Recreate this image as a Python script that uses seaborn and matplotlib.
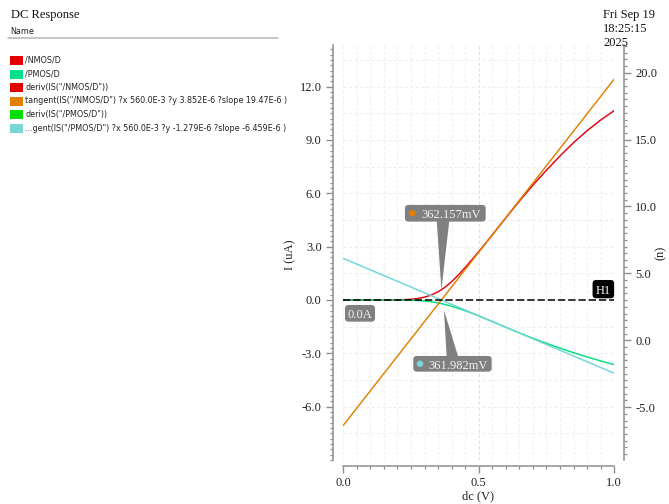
import numpy as np
import pandas as pd
import matplotlib
matplotlib.use("Agg")
import matplotlib.pyplot as plt
import seaborn as sns
from matplotlib.patches import FancyBboxPatch, Polygon, Rectangle, Circle
from matplotlib.lines import Line2D
from matplotlib.transforms import IdentityTransform
from matplotlib.ticker import MultipleLocator, FixedLocator, FormatStrFormatter

# ---- DC sweep results -------------------------------------------------------
vdc = [0.0, 0.05, 0.1, 0.15, 0.2, 0.225, 0.25, 0.275, 0.3, 0.325, 0.35, 0.375,
       0.4, 0.425, 0.45, 0.475, 0.5, 0.53, 0.56, 0.6, 0.65, 0.7, 0.75, 0.8,
       0.85, 0.9, 0.95, 1.0]
i_nmos = [0, 0, 0, 0.001, 0.008, 0.018, 0.04, 0.085, 0.16, 0.28, 0.46, 0.71,
          1.03, 1.41, 1.83, 2.27, 2.72, 3.28, 3.852, 4.62, 5.56, 6.46, 7.3, 8.1,
          8.85, 9.52, 10.12, 10.65]
i_pmos = [0, 0, 0, -0.001, -0.004, -0.008, -0.015, -0.03, -0.06, -0.1, -0.165,
          -0.25, -0.355, -0.475, -0.605, -0.745, -0.9, -1.09, -1.279, -1.535,
          -1.85, -2.155, -2.44, -2.71, -2.965, -3.205, -3.43, -3.64]

# tangent(IS(...) ?x ?y ?slope) parameters (uA, uA/V)
tan_x = 0.56
nmos_tan_y, nmos_tan_slope = 3.852, 19.47
pmos_tan_y, pmos_tan_slope = -1.279, -6.459
sweep = [0.0, 1.0]

h1_level = 0.0

trace_names = ['/NMOS/D', '/PMOS/D', 'deriv(IS("/NMOS/D"))',
               'tangent(IS("/NMOS/D") ?x 560.0E-3 ?y 3.852E-6 ?slope 19.47E-6 )',
               'deriv(IS("/PMOS/D"))',
               '...gent(IS("/PMOS/D") ?x 560.0E-3 ?y -1.279E-6 ?slope -6.459E-6 )']
trace_colors = ['#e30000', '#00e08a', '#e00000', '#e08000', '#00dd00', '#78d8d8']

left_ticks = [-6.0, -3.0, 0.0, 3.0, 6.0, 9.0, 12.0]
right_ticks = [-5.0, 0.0, 5.0, 10.0, 15.0, 20.0]
x_ticks = [0.0, 0.5, 1.0]

# ---- styling -----------------------------------------------------------------
sns.set_theme(style="white")
SERIF = "Liberation Serif"
plt.rcParams["font.family"] = [SERIF, "DejaVu Serif"]

W, H = 669, 504
fig = plt.figure(figsize=(W / 100, H / 100), dpi=100)
fig.patch.set_facecolor("white")


def fx(px):
    return px / W


def fy(py):
    return 1 - py / H


ax = fig.add_axes([fx(343.3), fy(460), (614.2 - 343.3) / W, (460 - 45) / H])
ax.set_facecolor("white")

# tangent lines evaluated over the sweep range
tan_n = [nmos_tan_y + nmos_tan_slope * (v - tan_x) for v in sweep]
tan_p = [pmos_tan_y + pmos_tan_slope * (v - tan_x) for v in sweep]

curves = pd.DataFrame({"dc": vdc, "NMOS": i_nmos, "PMOS": i_pmos})
tangents = pd.DataFrame({"dc": sweep, "tanN": tan_n, "tanP": tan_p})

lw = 1.05
sns.lineplot(data=curves, x="dc", y="NMOS", ax=ax, color="#e30010", lw=lw,
             estimator=None, sort=False, zorder=3)
sns.lineplot(data=curves, x="dc", y="PMOS", ax=ax, color="#00e07c", lw=lw,
             estimator=None, sort=False, zorder=3)
sns.lineplot(data=tangents, x="dc", y="tanN", ax=ax, color="#e08000", lw=lw,
             estimator=None, sort=False, zorder=4)
sns.lineplot(data=tangents, x="dc", y="tanP", ax=ax, color="#72d6d6", lw=lw,
             estimator=None, sort=False, zorder=4)

# H1 horizontal marker
ax.axhline(h1_level, color="black", lw=1.1, ls=(0, (4.8, 1.9)), zorder=5)

ax.set_xlim(0, 1)
ax.set_ylim(-9.0, 14.34)
ax.set_xlabel("")
ax.set_ylabel("")

# grid
ax.set_axisbelow(True)
for v in np.arange(0.0, 1.0001, 0.05):
    major = abs(v - 0.5) < 1e-6
    ax.axvline(v, color="#e0e0e0" if major else "#f0f0f0", lw=0.8,
               ls=(0, (3, 2)), zorder=0.5)
for v in np.arange(-7.5, 14.0, 1.5):
    ax.axhline(v, color="#efefef", lw=0.8, ls=(0, (3, 2)), zorder=0.5)

# axes / ticks
spine_col = "#8e8e8e"
tick_col = "#8e8e8e"
lab_col = "#222222"
for s in ["top", "right"]:
    ax.spines[s].set_visible(False)
ax.spines["left"].set_position(("outward", 7.4))
ax.spines["bottom"].set_position(("outward", 4.3))
for s in ["left", "bottom"]:
    ax.spines[s].set_color(spine_col)
    ax.spines[s].set_linewidth(1.1)

ax.xaxis.set_major_locator(FixedLocator(x_ticks))
ax.xaxis.set_minor_locator(MultipleLocator(0.05))
ax.xaxis.set_major_formatter(FormatStrFormatter("%.1f"))
ax.yaxis.set_major_locator(FixedLocator(left_ticks))
ax.yaxis.set_minor_locator(MultipleLocator(0.3))
ax.yaxis.set_major_formatter(FormatStrFormatter("%.1f"))
ax.tick_params(which="major", length=5, width=1, color=tick_col,
               labelsize=9, labelcolor=lab_col, direction="out")
ax.tick_params(which="minor", length=2.5, width=0.9, color=tick_col,
               direction="out")
ax.tick_params(axis="y", which="both", left=True, pad=3.2)
ax.tick_params(axis="x", which="both", bottom=True, pad=3.0)

ax2 = ax.twinx()
ax2.set_ylim(-8.95, 22.07)
for s in ["top", "left", "bottom"]:
    ax2.spines[s].set_visible(False)
ax2.spines["right"].set_position(("outward", 7.2))
ax2.spines["right"].set_color(spine_col)
ax2.spines["right"].set_linewidth(1.1)
ax2.yaxis.set_major_locator(FixedLocator(right_ticks))
ax2.yaxis.set_minor_locator(MultipleLocator(0.5))
ax2.yaxis.set_major_formatter(FormatStrFormatter("%.1f"))
ax2.tick_params(axis="y", which="major", length=5, width=1, color=tick_col,
                labelsize=9, labelcolor=lab_col, direction="out", pad=3.0,
                right=True)
ax2.tick_params(axis="y", which="minor", length=2.5, width=0.9,
                color=tick_col, direction="out", right=True)
ax2.grid(False)

# axis titles
fig.text(fx(290), fy(255), "I (uA)", rotation=90, ha="center", va="center",
         fontsize=9, color=lab_col)
fig.text(fx(661), fy(253), "(n)", rotation=90, ha="center", va="center",
         fontsize=9, color=lab_col)
fig.text(fx(478.5), fy(496), "dc (V)", ha="center", va="center",
         fontsize=9, color=lab_col)

# ---- marker callouts (drawn in pixel space, anchored to data) -------------------
PIX = IdentityTransform()
box_gray = "#808080"
box_txt = "#f2f2f2"


def to_px(x, y):
    return ax.transData.transform((x, y))


def callout(anchor, w, h, text, fc=box_gray, tc=box_txt, dot=None,
            text_dx=None, wedge=None):
    cx, cy = to_px(*anchor)
    if wedge is not None:
        tip, side, b0, b1 = wedge
        tx, ty = to_px(*tip)
        by = cy - h / 2 + 1 if side == "bottom" else cy + h / 2 - 1
        fig.add_artist(Polygon([[cx + b0, by], [cx + b1, by], [tx, ty]],
                               closed=True, transform=PIX, fc=fc, ec="none",
                               zorder=8))
    fig.add_artist(FancyBboxPatch((cx - w / 2, cy - h / 2), w, h,
                                  boxstyle="round,pad=0,rounding_size=3.5",
                                  transform=PIX, fc=fc, ec="none", zorder=9))
    if dot is not None:
        dcol, ddx = dot
        fig.add_artist(Circle((cx + ddx, cy), 3.2, transform=PIX, fc=dcol,
                              ec="none", zorder=10))
    if text_dx is None:
        fig.text(cx, cy - 0.5, text, transform=PIX, ha="center",
                 va="center_baseline", fontsize=9, color=tc, zorder=11)
    else:
        fig.text(cx + text_dx, cy - 0.5, text, transform=PIX, ha="left",
                 va="center_baseline", fontsize=9, color=tc, zorder=11)


nmos_cross = tan_x - nmos_tan_y / nmos_tan_slope
pmos_cross = tan_x - pmos_tan_y / pmos_tan_slope
nmos_at_cross = float(np.interp(nmos_cross, vdc, i_nmos))

callout((0.3766, 4.876), 80.7, 16.7, f"{nmos_cross * 1e3:.3f}mV",
        dot=("#e08000", -33.0), text_dx=-24.3,
        wedge=((nmos_cross, nmos_at_cross), "bottom", -8.6, 4.0))
callout((0.403, -3.59), 78.4, 15.7, f"{pmos_cross * 1e3:.3f}mV",
        dot=("#78d8d8", -32.5), text_dx=-24.2,
        wedge=((pmos_cross + 0.0095, -0.56), "top", -5.8, 5.8))
callout((0.0616, -0.75), 30.0, 16.7, f"{h1_level:.1f}A")
callout((0.96, 0.61), 21.6, 18.3, "H1", fc="black", tc="white")

# ---- header, legend and timestamp -----------------------------------------------
fig.text(fx(11), fy(18.3), "DC Response", ha="left", va="baseline",
         fontsize=9, color="#111111")
for k, line in enumerate(["Fri Sep 19", "18:25:15", "2025"]):
    fig.text(fx(603.3), fy(17.7 + 14.2 * k), line, ha="left", va="baseline",
             fontsize=9, color="#111111")

SANS = ["DejaVu Sans"]
fig.text(fx(10), fy(34.3), "Name", ha="left", va="baseline", fontsize=5.8,
         family=SANS, color="#222222")
fig.add_artist(Line2D([fx(8.3), fx(278)], [fy(37.7), fy(37.7)],
                      color="#b5b5b5", lw=1.1, transform=fig.transFigure))
for k, (name, col) in enumerate(zip(trace_names, trace_colors)):
    yc = 60.5 + 13.55 * k
    fig.add_artist(Rectangle((fx(10), fy(yc + 4.5)), 12.7 / W, 9 / H,
                             transform=fig.transFigure, fc=col, ec="none"))
    fig.text(fx(25), fy(yc + 2.3), name, ha="left", va="baseline",
             fontsize=5.8, family=SANS, color="#222222")

fig.savefig("out.png", dpi=100)
